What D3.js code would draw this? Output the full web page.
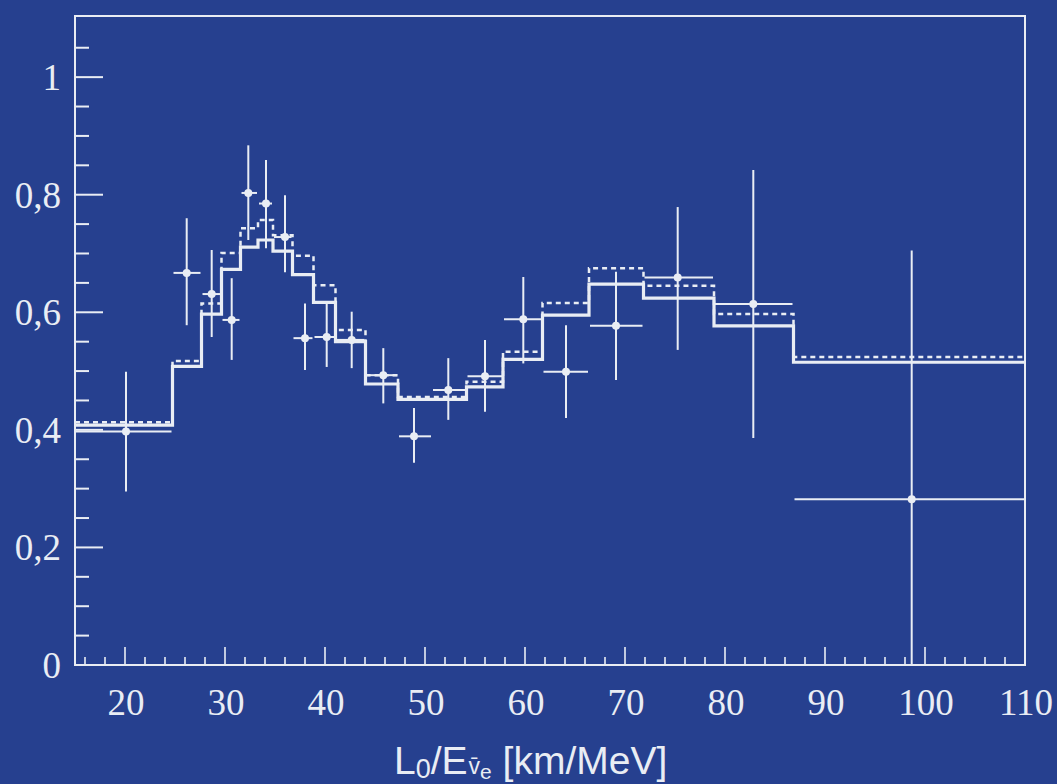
<!DOCTYPE html>
<html>
<head>
<meta charset="utf-8">
<title>L0/E ratio</title>
<script src="https://d3js.org/d3.v7.min.js"></script>
<style>
  html, body { margin: 0; padding: 0; background: #26408f; }
  svg { display: block; }
</style>
</head>
<body>
<svg id="chart" width="1057" height="784"></svg>
<script>
// bin edges in L0/E [km/MeV]
const binEdges = [15, 24.75, 27.65, 29.65, 31.55, 33.3, 34.8, 36.75, 38.85, 41.05, 44.05,
                  47.3, 50.7, 54.15, 57.8, 61.75, 66.4, 71.85, 78.9, 86.85, 110];
// expectation histograms (solid = best fit, dotted = alternative)
const solidVals  = [0.408, 0.508, 0.597, 0.673, 0.711, 0.723, 0.704, 0.664, 0.617, 0.550,
                    0.478, 0.452, 0.452, 0.473, 0.520, 0.595, 0.648, 0.624, 0.577, 0.515];
const dottedVals = [0.413, 0.517, 0.615, 0.701, 0.743, 0.757, 0.731, 0.696, 0.646, 0.570,
                    0.493, 0.456, 0.456, 0.482, 0.533, 0.616, 0.675, 0.645, 0.597, 0.524];
// data points
const ptX   = [20.1, 26.17, 28.67, 30.67, 32.33, 34.1, 36.0, 38.0, 40.17, 42.67,
               45.83, 48.9, 52.33, 56.0, 59.83, 64.1, 69.1, 75.27, 82.83, 98.67];
const ptY   = [0.397, 0.667, 0.631, 0.587, 0.803, 0.785, 0.728, 0.556, 0.558, 0.553,
               0.493, 0.389, 0.468, 0.491, 0.588, 0.499, 0.577, 0.659, 0.614, 0.282];
const ptHi  = [0.499, 0.760, 0.706, 0.658, 0.884, 0.859, 0.799, 0.615, 0.617, 0.601,
               0.539, 0.437, 0.522, 0.553, 0.660, 0.578, 0.669, 0.779, 0.842, 0.705];
const ptLo  = [0.295, 0.578, 0.558, 0.519, 0.723, 0.709, 0.668, 0.502, 0.507, 0.505,
               0.445, 0.344, 0.417, 0.431, 0.513, 0.420, 0.485, 0.536, 0.386, 0.0];
const xTicks = [20, 30, 40, 50, 60, 70, 80, 90, 100, 110];
const yTicks = [0, 0.2, 0.4, 0.6, 0.8, 1];
const yLabels = ["0", "0,2", "0,4", "0,6", "0,8", "1"];

const ink = "#e9edf4";
const svg = d3.select("#chart");
const x = d3.scaleLinear([15, 110], [75, 1025]);
const y = d3.scaleLinear([0, 1.104], [665, 16]);

// frame
svg.append("rect")
  .attr("x", x(15)).attr("y", y(1.104))
  .attr("width", x(110) - x(15)).attr("height", y(0) - y(1.104))
  .attr("fill", "none").attr("stroke", ink).attr("stroke-width", 2);

// y ticks (every 0.05, long every 0.2)
const yMinor = d3.range(0.05, 1.1, 0.05);
svg.append("g").selectAll("line").data(yMinor).join("line")
  .attr("x1", x(15)).attr("x2", d => x(15) + (Math.abs(d / 0.2 - Math.round(d / 0.2)) < 1e-6 ? 28 : 14))
  .attr("y1", d => y(d)).attr("y2", d => y(d))
  .attr("stroke", ink).attr("stroke-width", 2);

// x ticks (every 2, long every 10)
const xMinor = d3.range(16, 110, 2);
svg.append("g").selectAll("line").data(xMinor).join("line")
  .attr("x1", d => x(d)).attr("x2", d => x(d))
  .attr("y1", y(0)).attr("y2", d => y(0) - (d % 10 === 0 ? 18 : 8))
  .attr("stroke", ink).attr("stroke-width", 1.6);

// tick labels
svg.append("g").selectAll("text").data(yTicks).join("text")
  .attr("x", 61).attr("y", d => y(d) + 13)
  .attr("text-anchor", "end")
  .attr("font-family", "Liberation Serif, DejaVu Serif, serif")
  .attr("font-size", 37).attr("fill", ink)
  .text((d, i) => yLabels[i]);

svg.append("g").selectAll("text").data(xTicks).join("text")
  .attr("x", d => x(d) + 1).attr("y", 715)
  .attr("text-anchor", "middle")
  .attr("font-family", "Liberation Serif, DejaVu Serif, serif")
  .attr("font-size", 37).attr("fill", ink)
  .text(d => d);

// axis title
const title = svg.append("text")
  .attr("x", 394).attr("y", 774)
  .attr("font-family", "Liberation Sans, Arial, sans-serif")
  .attr("font-size", 39).attr("fill", ink);
title.append("tspan").text("L");
title.append("tspan").attr("font-size", 27).attr("dy", 4).text("0");
title.append("tspan").attr("dy", -4).text("/E");
title.append("tspan").attr("font-size", 23).attr("dx", 1).attr("dy", 0).text("v\u0304");
title.append("tspan").attr("font-size", 21).attr("dy", 5).text("e");
title.append("tspan").attr("dy", -5).text(" [km/MeV]");

// step histograms
function stepPoints(vals) {
  const pts = [];
  vals.forEach((v, i) => { pts.push([binEdges[i], v]); pts.push([binEdges[i + 1], v]); });
  return pts;
}
const line = d3.line().x(d => x(d[0])).y(d => y(d[1]));

svg.append("path").datum(stepPoints(dottedVals))
  .attr("d", line).attr("fill", "none")
  .attr("stroke", ink).attr("stroke-width", 2.5).attr("stroke-dasharray", "5,4");

svg.append("path").datum(stepPoints(solidVals))
  .attr("d", line).attr("fill", "none")
  .attr("stroke", ink).attr("stroke-width", 3.2);

// data points with error bars
const pts = ptX.map((v, i) => ({ x: v, y: ptY[i], hi: ptHi[i], lo: ptLo[i], x0: binEdges[i], x1: binEdges[i + 1] }));
const g = svg.append("g").attr("stroke", ink).attr("stroke-width", 2);
g.selectAll(".v").data(pts).join("line")
  .attr("x1", d => x(d.x)).attr("x2", d => x(d.x))
  .attr("y1", d => y(d.hi)).attr("y2", d => y(d.lo));
g.selectAll(".h").data(pts).join("line")
  .attr("x1", d => x(d.x0) + 1).attr("x2", d => x(d.x1) - 1)
  .attr("y1", d => y(d.y)).attr("y2", d => y(d.y));
svg.append("g").selectAll("circle").data(pts).join("circle")
  .attr("cx", d => x(d.x)).attr("cy", d => y(d.y)).attr("r", 4)
  .attr("fill", ink);
</script>
</body>
</html>
